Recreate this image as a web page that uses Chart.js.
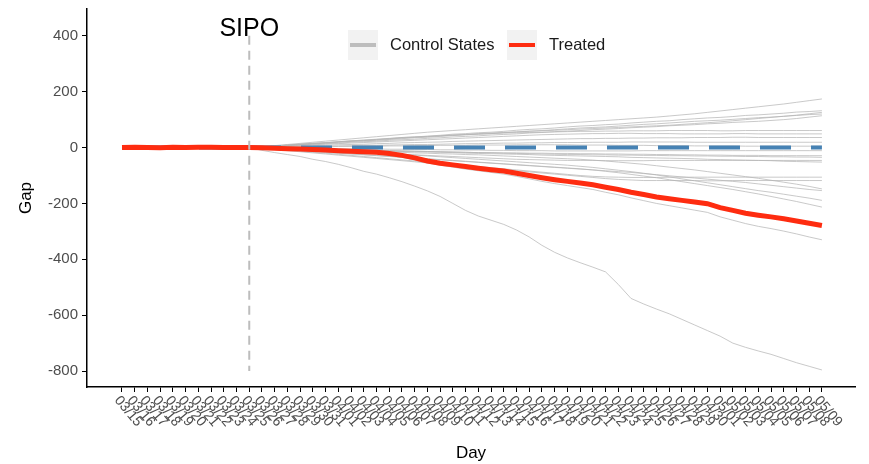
<!DOCTYPE html>
<html>
<head>
<meta charset="utf-8">
<script src="https://cdn.jsdelivr.net/npm/chart.js@4.4.1/dist/chart.umd.min.js"></script>
<style>
  body { margin: 0; background: #fff; }
</style>
</head>
<body>
<canvas id="gapChart" width="869" height="464"></canvas>
<script>
// 日期 (x 軸)
var days = ['03/15','03/16','03/17','03/18','03/19','03/20','03/21','03/22','03/23','03/24','03/25','03/26','03/27','03/28','03/29','03/30','03/31',
  '04/01','04/02','04/03','04/04','04/05','04/06','04/07','04/08','04/09','04/10','04/11','04/12','04/13','04/14','04/15','04/16','04/17','04/18','04/19','04/20',
  '04/21','04/22','04/23','04/24','04/25','04/26','04/27','04/28','04/29','04/30',
  '05/01','05/02','05/03','05/04','05/05','05/06','05/07','05/08','05/09'];
var sipoIndex = 10;
var yTicks = [-800, -600, -400, -200, 0, 200, 400];

// 處理組
var treated = [0,1,0,-1,1,0,1,1,0,0, 0,-1,-2,-4,-5,-7,-9,-11,-13,-15,-17,-21,-28,-37,-48,-56,-62,-68,-74,-79,-84,-92,-100,-108,-115,-121,-127,-133,-142,-150,-160,-168,-177,-183,-189,-195,-201,-215,-225,-235,-242,-248,-255,-263,-271,-279];
var baseline = [0,0,0,0,0,0,0,0,0,0, 0,0,0,0,0,0,0,0,0,0,0,0,0,0,0,0,0,0,0,0,0,0,0,0,0,0,0,0,0,0,0,0,0,0,0,0,0,0,0,0,0,0,0,0,0,0];

// 對照州
var controls = [
  [0,0,0,0,0,0,0,0,0,0, 0,3,7,11,15,19,23,27,31,35,39,43,47,51,55,58,61,64,67,70,73,76,79,82,85,88,91,94,97,100,103,106,109,113,117,121,126,131,136,141,146,151,156,162,168,174],
  [0,0,0,0,0,0,0,0,0,0, 0,3,5,9,12,15,17,21,24,26,29,32,36,38,41,44,48,50,53,55,58,62,65,67,70,74,77,79,82,84,88,91,94,96,100,103,106,108,111,115,117,120,123,127,129,132],
  [0,0,0,0,0,0,0,0,0,0, 0,3,6,8,11,14,17,20,23,25,28,31,34,37,39,42,45,47,50,52,54,56,58,60,62,64,66,68,70,72,74,76,78,80,83,86,89,92,96,100,104,108,112,116,121,126],
  [0,0,0,0,0,0,0,0,0,0, 0,2,5,8,11,13,16,19,22,24,26,29,32,35,37,40,43,46,48,50,53,56,59,61,64,67,70,72,74,77,80,83,85,88,91,94,96,98,101,104,107,109,112,115,118,120],
  [0,0,0,0,0,0,0,0,0,0, 0,2,5,7,9,12,14,16,19,21,23,26,28,30,33,35,38,40,42,45,47,49,52,54,57,59,61,64,66,68,71,73,75,78,80,82,85,87,90,92,94,97,100,104,109,114],
  [0,0,0,0,0,0,0,0,0,0, 0,3,6,9,12,15,18,21,24,27,30,33,36,38,40,42,44,46,48,50,52,53,54,55,56,57,58,58,59,59,60,60,60,61,61,61,61,60,60,61,61,61,61,61,61,61],
  [0,0,0,0,0,0,0,0,0,0, 0,2,4,6,8,10,12,14,16,18,20,22,24,26,28,30,32,34,36,38,40,42,44,46,47,48,49,50,50,51,51,50,50,50,49,49,49,49,50,50,49,49,49,49,49,49],
  [0,0,0,0,0,0,0,0,0,0, 0,1,3,4,6,7,8,10,11,12,14,15,17,18,19,20,22,23,24,25,26,27,28,29,30,31,32,32,33,33,34,34,35,35,35,36,36,36,37,37,36,36,36,36,36,36],
  [0,0,0,0,0,0,0,0,0,0, 0,1,2,3,3,4,5,6,7,8,8,9,10,11,11,12,13,14,14,15,16,16,17,17,18,18,18,19,19,19,20,20,20,20,20,19,19,19,19,19,19,19,19,19,19,19],
  [0,0,0,0,0,0,0,0,0,0, 0,1,1,2,2,3,3,4,4,5,5,6,6,7,7,8,8,8,9,9,9,10,10,10,10,10,9,9,9,8,8,8,7,7,7,6,6,6,6,5,5,5,5,5,5,5],
  [0,0,0,0,0,0,0,0,0,0, 0,-1,-1,-2,-2,-3,-3,-4,-4,-5,-5,-6,-6,-7,-7,-8,-8,-9,-9,-10,-10,-11,-11,-11,-12,-12,-12,-12,-12,-12,-12,-11,-11,-11,-11,-11,-11,-11,-11,-11,-11,-11,-11,-11,-11,-11],
  [0,0,0,0,0,0,0,0,0,0, 0,-1,-2,-3,-4,-5,-6,-7,-8,-9,-10,-11,-12,-13,-14,-15,-16,-17,-18,-18,-19,-19,-20,-20,-21,-21,-22,-22,-23,-23,-24,-24,-25,-25,-26,-26,-27,-27,-28,-28,-28,-29,-29,-29,-29,-29],
  [0,0,0,0,0,0,0,0,0,0, 0,-1,-2,-3,-4,-5,-6,-7,-8,-9,-10,-11,-12,-13,-14,-15,-16,-17,-18,-19,-20,-21,-22,-23,-24,-25,-25,-26,-26,-27,-27,-28,-28,-29,-29,-30,-30,-31,-31,-32,-32,-33,-33,-34,-34,-35],
  [0,0,0,0,0,0,0,0,0,0, 0,-2,-4,-6,-8,-10,-12,-14,-16,-18,-20,-22,-24,-26,-28,-30,-32,-34,-36,-38,-40,-42,-43,-44,-45,-46,-46,-46,-47,-47,-47,-47,-46,-46,-46,-46,-46,-46,-46,-46,-46,-46,-46,-46,-46,-46],
  [0,0,0,0,0,0,0,0,0,0, 0,-1,-2,-3,-5,-6,-7,-8,-9,-10,-12,-13,-14,-15,-16,-17,-18,-20,-21,-22,-23,-24,-25,-27,-28,-29,-30,-31,-32,-33,-35,-36,-37,-38,-39,-40,-42,-43,-44,-45,-46,-47,-49,-50,-51,-52],
  [0,0,0,0,0,0,0,0,0,0, 0,-3,-6,-10,-13,-17,-20,-24,-28,-32,-36,-40,-44,-48,-52,-56,-60,-64,-68,-72,-76,-80,-84,-88,-92,-96,-100,-103,-105,-106,-107,-107,-107,-106,-106,-106,-106,-106,-106,-106,-106,-106,-106,-106,-106,-106],
  [0,0,0,0,0,0,0,0,0,0, 0,-3,-7,-11,-15,-19,-23,-27,-31,-35,-39,-43,-47,-51,-55,-59,-63,-67,-71,-75,-79,-83,-87,-91,-95,-99,-103,-107,-111,-114,-116,-118,-118,-118,-118,-118,-119,-119,-118,-118,-118,-118,-118,-118,-118,-118],
  [0,0,0,0,0,0,0,0,0,0, 0,-1,-2,-4,-5,-7,-8,-10,-11,-13,-14,-16,-17,-19,-20,-22,-23,-25,-26,-28,-30,-32,-34,-36,-38,-40,-42,-45,-48,-52,-56,-60,-65,-70,-75,-80,-86,-92,-98,-104,-110,-117,-124,-131,-139,-148],
  [0,0,0,0,0,0,0,0,0,0, 0,-2,-5,-8,-11,-14,-17,-20,-23,-26,-29,-32,-35,-38,-41,-44,-47,-50,-53,-56,-59,-62,-65,-68,-71,-74,-77,-80,-83,-86,-89,-93,-97,-101,-105,-109,-113,-117,-121,-125,-130,-135,-140,-145,-150,-154],
  [0,0,0,0,0,0,0,0,0,0, 0,-2,-4,-6,-8,-10,-12,-14,-16,-18,-20,-22,-24,-27,-30,-33,-36,-39,-42,-45,-48,-51,-54,-57,-60,-63,-67,-71,-76,-81,-86,-92,-98,-105,-112,-119,-126,-133,-140,-147,-154,-160,-167,-174,-181,-189],
  [0,0,0,0,0,0,0,0,0,0, 0,-2,-4,-7,-10,-13,-16,-19,-22,-25,-28,-31,-34,-37,-40,-43,-46,-49,-52,-55,-58,-61,-64,-67,-70,-73,-76,-80,-85,-90,-96,-102,-108,-115,-122,-129,-136,-143,-150,-158,-166,-175,-184,-193,-203,-213],
  [0,0,0,0,0,0,0,0,0,0, 0,-2,-4,-6,-8,-10,-12,-14,-17,-20,-23,-28,-35,-44,-55,-63,-70,-77,-83,-89,-95,-103,-112,-121,-129,-136,-143,-150,-160,-169,-180,-190,-200,-208,-216,-224,-232,-248,-260,-272,-282,-290,-299,-309,-320,-330],
  [0,0,0,0,0,0,0,0,0,0, 0,-10,-18,-25,-32,-42,-50,-60,-72,-85,-95,-108,-122,-138,-155,-175,-200,-225,-245,-260,-275,-295,-320,-350,-375,-395,-412,-428,-445,-490,-540,-560,-578,-595,-615,-635,-655,-675,-700,-715,-728,-740,-755,-770,-783,-796]
];

var FONT = '"Liberation Sans", Arial, Helvetica, sans-serif';
Chart.defaults.font.family = FONT;

function toPoints(arr) {
  return arr.map(function (v, i) { return { x: i, y: v }; });
}

var datasets = [{
  label: 'Treated',
  data: toPoints(treated),
  borderColor: '#fe2c10',
  borderWidth: 5,
  pointRadius: 0
}, {
  label: 'zero',
  data: toPoints(baseline),
  borderColor: '#4682b4',
  borderWidth: 4,
  borderDash: [31, 20],
  borderDashOffset: 25,
  borderCapStyle: 'butt',
  pointRadius: 0
}];
controls.forEach(function (c, k) {
  datasets.push({
    label: 'Control ' + (k + 1),
    data: toPoints(c),
    borderColor: 'rgba(180,180,180,0.8)',
    borderWidth: 0.9,
    pointRadius: 0
  });
});

// 自訂：SIPO 線、x 軸標籤、圖例
var extras = {
  id: 'extras',
  afterDatasetsDraw: function (chart) {
    var ctx = chart.ctx;
    var xs = chart.scales.x, ys = chart.scales.y;
    var sx = xs.getPixelForValue(sipoIndex);
    ctx.save();
    ctx.strokeStyle = '#bdbdbd';
    ctx.lineWidth = 2;
    ctx.setLineDash([9, 6]);
    ctx.beginPath();
    ctx.moveTo(sx, ys.getPixelForValue(400));
    ctx.lineTo(sx, ys.getPixelForValue(-800));
    ctx.stroke();
    ctx.setLineDash([]);
    ctx.fillStyle = '#000';
    ctx.font = '25px ' + FONT;
    ctx.textAlign = 'center';
    ctx.textBaseline = 'alphabetic';
    ctx.fillText('SIPO', sx, ys.getPixelForValue(400));
    ctx.restore();
  },
  afterDraw: function (chart) {
    var ctx = chart.ctx;
    var xs = chart.scales.x;
    ctx.save();
    // x 軸標籤 (順時針旋轉)
    ctx.fillStyle = '#4d4d4d';
    ctx.font = '14px ' + FONT;
    ctx.textAlign = 'left';
    ctx.textBaseline = 'middle';
    days.forEach(function (d, i) {
      var px = xs.getPixelForValue(i);
      ctx.save();
      ctx.translate(px - 5, chart.chartArea.bottom + 11);
      ctx.rotate(50 * Math.PI / 180);
      ctx.fillText(d, 0, 0);
      ctx.restore();
    });
    // 圖例
    var items = [
      { text: 'Control States', color: '#bdbdbd', x: 348 },
      { text: 'Treated', color: '#fe2c10', x: 507 }
    ];
    ctx.font = '16.5px ' + FONT;
    items.forEach(function (it) {
      ctx.fillStyle = '#f2f2f2';
      ctx.fillRect(it.x, 30, 30, 30);
      ctx.strokeStyle = it.color;
      ctx.lineWidth = 4;
      ctx.beginPath();
      ctx.moveTo(it.x + 2, 45);
      ctx.lineTo(it.x + 28, 45);
      ctx.stroke();
      ctx.fillStyle = '#1a1a1a';
      ctx.fillText(it.text, it.x + 42, 45);
    });
    ctx.restore();
  }
};

new Chart(document.getElementById('gapChart').getContext('2d'), {
  type: 'line',
  data: { datasets: datasets },
  options: {
    responsive: false,
    animation: false,
    layout: { padding: { left: 0, right: 14, top: 9, bottom: 0 } },
    plugins: { legend: { display: false }, tooltip: { enabled: false } },
    elements: { line: { tension: 0 } },
    scales: {
      x: {
        type: 'linear',
        min: -2.75,
        max: 57.6,
        afterBuildTicks: function (s) {
          s.ticks = days.map(function (d, i) { return { value: i }; });
        },
        afterFit: function (s) { s.height = 77; },
        ticks: { display: false },
        grid: { drawOnChartArea: false, color: '#000', tickLength: 5, tickWidth: 1 },
        border: { display: true, color: '#000', width: 1.5 },
        title: { display: true, text: 'Day', color: '#000', font: { size: 17 }, padding: { top: 0, bottom: 0 } }
      },
      y: {
        min: -857,
        max: 496,
        afterBuildTicks: function (s) {
          s.ticks = yTicks.map(function (v) { return { value: v }; });
        },
        afterFit: function (s) { s.width = 87; s.paddingTop = 0; s.paddingBottom = 0; },
        ticks: { color: '#4d4d4d', font: { size: 15, lineHeight: 0.8 }, padding: 4 },
        grid: { drawOnChartArea: false, color: '#000', tickLength: 5, tickWidth: 1 },
        border: { display: true, color: '#000', width: 1.5 },
        title: { display: true, text: 'Gap', color: '#000', font: { size: 17 }, padding: { top: 16, bottom: 0 } }
      }
    }
  },
  plugins: [extras]
});
</script>
</body>
</html>
